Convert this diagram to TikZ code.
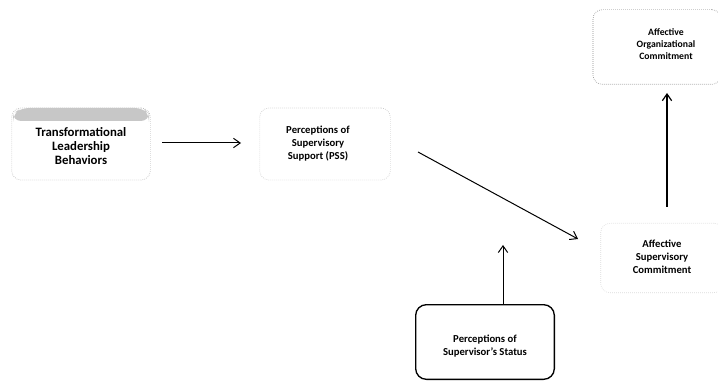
\documentclass[tikz,border=0pt]{standalone}
\usepackage{fontspec}
\setmainfont{Carlito}
\usetikzlibrary{arrows.meta}
\begin{document}
\begin{tikzpicture}[x=0.75pt,y=-0.75pt,
  lbl/.style={font=\bfseries\fontsize{8}{9.8}\selectfont, align=center, text=black},
  faintbox/.style={draw=black!45, densely dotted, line width=0.5pt, rounded corners=7pt},
  solidbox/.style={draw=black, line width=1pt, rounded corners=8pt},
  conn/.style={draw=black, line width=0.75pt, -{Straight Barb[length=5pt,width=7pt]}}]
\useasboundingbox (0,0) rectangle (718,381);
% boxes
\node[faintbox, draw=black!30, minimum width=104pt, minimum height=54pt] (tlbox) at (81,144) {};
\fill[black!22, rounded corners=6pt] (13,121) -- (13,114) -- (21,108) -- (143,108) -- (149,114) -- (149,121) -- cycle;
\node[faintbox, draw=black!22, minimum width=98pt, minimum height=54pt] (pssbox) at (325,144) {};
\node[faintbox, minimum width=96pt, minimum height=56pt] (aocbox) at (657,47) {};
\node[faintbox, draw=black!15, minimum width=92pt, minimum height=52pt] (ascbox) at (662,258) {};
\node[solidbox, minimum width=104pt, minimum height=56pt] (ssbox) at (485,342) {};
% labels
\node[lbl, font=\bfseries\fontsize{9.6}{10.2}\selectfont] (tl) at (81,146) {Transformational\\Leadership\\Behaviors};
\node[lbl] (pss) at (318,144) {Perceptions of\\Supervisory\\Support (PSS)};
\node[lbl, font=\bfseries\fontsize{7.3}{9}\selectfont] (aoc) at (666,44) {Affective\\Organizational\\Commitment};
\node[lbl] (asc) at (662,257) {Affective\\Supervisory\\Commitment};
\node[lbl] (ss) at (485,346) {Perceptions of\\Supervisor's Status};
% connectors
\coordinate (a1s) at (162,143);
\coordinate (a1e) at (241,143);
\draw[conn] (a1s) -- (a1e);
\coordinate (a2s) at (418,152);
\coordinate (a2e) at (578,239);
\draw[conn] (a2s) -- (a2e);
\coordinate (mod) at (503,245);
\draw[conn] (ssbox.north -| mod) -- (mod);
\coordinate (a4s) at (667,207);
\coordinate (a4e) at (667,93);
\draw[conn, line width=0.9pt] (a4s) -- (a4e);
\end{tikzpicture}
\end{document}
